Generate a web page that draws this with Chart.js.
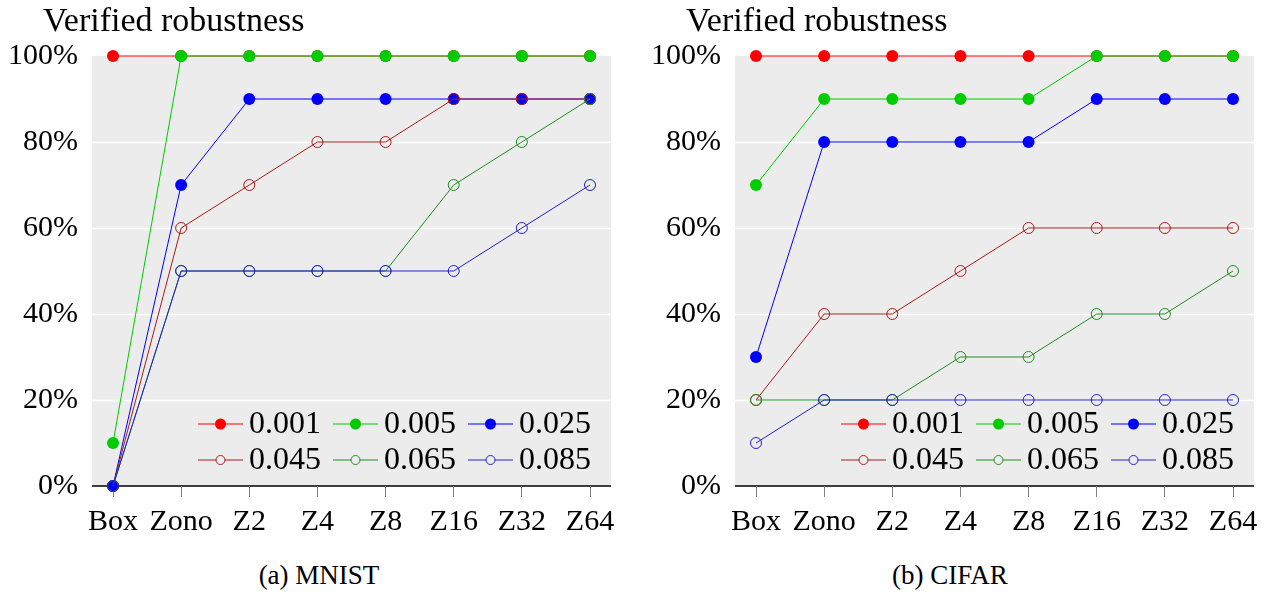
<!DOCTYPE html>
<html>
<head>
<meta charset="utf-8">
<script src="https://cdn.jsdelivr.net/npm/chart.js@4.4.1/dist/chart.umd.min.js"></script>
<style>
  html, body { margin: 0; padding: 0; background: #fff; width: 1269px; height: 601px; overflow: hidden; }
  canvas { position: absolute; top: 0; }
  #mnist { left: 0; }
  #cifar { left: 643px; }
  .heading {
    position: absolute; top: 2.5px; font: 34px 'Liberation Serif', serif; line-height: 34px;
    color: #000; white-space: nowrap;
  }
  .caption {
    position: absolute; top: 562.4px; font: 27px 'Liberation Serif', serif; line-height: 27px;
    color: #000; white-space: nowrap; transform: translateX(-50%);
  }
</style>
</head>
<body>
<canvas id="mnist" width="634" height="550"></canvas>
<canvas id="cifar" width="626" height="550"></canvas>
<div class="heading" style="left:43px">Verified robustness</div>
<div class="heading" style="left:686px">Verified robustness</div>
<div class="caption" style="left:319px">(a) MNIST</div>
<div class="caption" style="left:950px">(b) CIFAR</div>
<script>
// Abstract domains on the x axis
const categories = ['Box', 'Zono', 'Z2', 'Z4', 'Z8', 'Z16', 'Z32', 'Z64'];
// Perturbation radii, one series each
const epsilons = ['0.001', '0.005', '0.025', '0.045', '0.065', '0.085'];
// Percent ticks on the y axis
const yTickValues = [0, 20, 40, 60, 80, 100];

// MNIST: verified robustness (%) per domain
const mnist_001 = [100, 100, 100, 100, 100, 100, 100, 100];
const mnist_005 = [10, 100, 100, 100, 100, 100, 100, 100];
const mnist_025 = [0, 70, 90, 90, 90, 90, 90, 90];
const mnist_045 = [0, 60, 70, 80, 80, 90, 90, 90];
const mnist_065 = [0, 50, 50, 50, 50, 70, 80, 90];
const mnist_085 = [0, 50, 50, 50, 50, 50, 60, 70];

// CIFAR: verified robustness (%) per domain
const cifar_001 = [100, 100, 100, 100, 100, 100, 100, 100];
const cifar_005 = [70, 90, 90, 90, 90, 100, 100, 100];
const cifar_025 = [30, 80, 80, 80, 80, 90, 90, 90];
const cifar_045 = [20, 40, 40, 50, 60, 60, 60, 60];
const cifar_065 = [20, 20, 20, 30, 30, 40, 40, 50];
const cifar_085 = [10, 20, 20, 20, 20, 20, 20, 20];

// Series appearance
const seriesColors = ['#ff0000', '#00cc00', '#0000ff', '#aa1c1c', '#1f8f1f', '#2222cc'];
const seriesFilled = [true, true, true, false, false, false];

const FONT = "'Liberation Serif', 'Times New Roman', serif";
const PANEL_BG = '#ececec';
const BG_EXTEND = 21;

// Gray panel, white horizontal grid lines and the black baseline
const backdrop = {
  id: 'backdrop',
  beforeDraw(chart) {
    const { ctx, chartArea: a, scales: { y } } = chart;
    const l = a.left - BG_EXTEND, r = a.right + BG_EXTEND;
    ctx.save();
    ctx.fillStyle = PANEL_BG;
    ctx.fillRect(l, a.top, r - l, a.bottom - a.top);
    ctx.strokeStyle = '#ffffff';
    ctx.lineWidth = 1.5;
    y.ticks.forEach(t => {
      if (t.value > y.min && t.value < y.max) {
        const py = Math.round(y.getPixelForValue(t.value)) + 0.5;
        ctx.beginPath(); ctx.moveTo(l, py); ctx.lineTo(r, py); ctx.stroke();
      }
    });
    ctx.strokeStyle = '#000000';
    ctx.lineWidth = 1.4;
    ctx.beginPath(); ctx.moveTo(l, a.bottom); ctx.lineTo(r, a.bottom); ctx.stroke();
    ctx.restore();
  }
};

// Legend drawn inside the plot: line sample with marker, then the label
const lineLegend = {
  id: 'lineLegend',
  afterDraw(chart, args, o) {
    const { ctx, chartArea: a } = chart;
    ctx.save();
    chart.data.datasets.forEach((ds, i) => {
      const col = i % o.columns, row = Math.floor(i / o.columns);
      const x = a.left + o.offsetX + col * o.colStep;
      const y = a.bottom - o.rowOffsets[row];
      ctx.strokeStyle = ds.borderColor;
      ctx.lineWidth = 1;
      ctx.beginPath(); ctx.moveTo(x, y); ctx.lineTo(x + o.lineLen, y); ctx.stroke();
      const cx = x + o.lineLen / 2;
      ctx.beginPath();
      if (ds.filled) {
        ctx.arc(cx, y, 5.5, 0, Math.PI * 2);
        ctx.fillStyle = ds.borderColor; ctx.fill();
      } else {
        ctx.arc(cx, y, 4.5, 0, Math.PI * 2);
        ctx.fillStyle = PANEL_BG; ctx.fill(); ctx.stroke();
      }
      ctx.fillStyle = '#000';
      ctx.font = o.font;
      ctx.textAlign = 'left';
      ctx.textBaseline = 'middle';
      ctx.fillText(ds.label, x + o.lineLen + 6, y + 1);
    });
    ctx.restore();
  }
};

function makeDatasets(series) {
  return series.map((vals, i) => ({
    label: epsilons[i],
    data: vals,
    filled: seriesFilled[i],
    borderColor: seriesColors[i],
    backgroundColor: seriesColors[i],
    borderWidth: 1,
    pointRadius: seriesFilled[i] ? 6 : 5.5,
    pointBorderWidth: seriesFilled[i] ? 0 : 1,
    pointBackgroundColor: seriesFilled[i] ? seriesColors[i] : 'rgba(0,0,0,0)',
    pointBorderColor: seriesColors[i],
    tension: 0,
    clip: false,
    order: series.length - i
  }));
}

function makeChart(canvasId, series, padRight) {
  return new Chart(document.getElementById(canvasId), {
    type: 'line',
    data: { labels: categories, datasets: makeDatasets(series) },
    plugins: [backdrop, lineLegend],
    options: {
      responsive: false,
      animation: false,
      events: [],
      layout: { padding: { left: 0, right: padRight, top: 56, bottom: 0 } },
      plugins: {
        legend: { display: false },
        tooltip: { enabled: false },
        title: { display: false },
        lineLegend: {
          columns: 3, offsetX: 85, colStep: 135, lineLen: 45,
          rowOffsets: [62, 26],
          font: '32px ' + FONT
        }
      },
      scales: {
        x: {
          type: 'category',
          offset: false,
          grid: { display: true, drawOnChartArea: false, drawTicks: true, tickLength: 11, color: '#808080', lineWidth: 1 },
          border: { display: false },
          ticks: { color: '#000', font: { family: FONT, size: 30 }, padding: 7, maxRotation: 0, autoSkip: false },
          afterFit: s => { s.height = 64; }
        },
        y: {
          min: 0, max: 100,
          afterBuildTicks: s => { s.ticks = yTickValues.map(v => ({ value: v })); },
          grid: { display: false, drawTicks: false },
          border: { display: false },
          ticks: { color: '#000', font: { family: FONT, size: 30 }, padding: 35, callback: v => v + '%' },
          afterFit: s => { s.width = 113; }
        }
      }
    }
  });
}

makeChart('mnist', [mnist_001, mnist_005, mnist_025, mnist_045, mnist_065, mnist_085], 44);
makeChart('cifar', [cifar_001, cifar_005, cifar_025, cifar_045, cifar_065, cifar_085], 36);
</script>
</body>
</html>
